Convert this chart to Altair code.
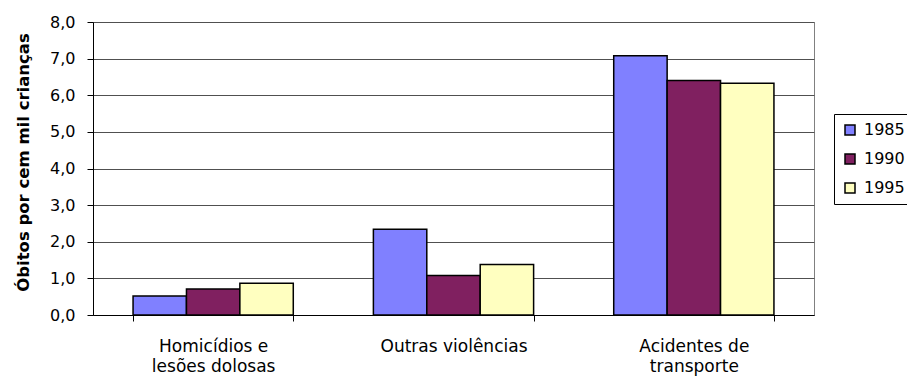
import altair as alt
import pandas as pd

categories = ["Homicídios e lesões dolosas", "Outras violências", "Acidentes de transporte"]
label_lines = [["Homicídios e", "lesões dolosas"], ["Outras violências"], ["Acidentes de", "transporte"]]
years = ["1985", "1990", "1995"]
v1985 = [0.52, 2.34, 7.08]
v1990 = [0.71, 1.08, 6.40]
v1995 = [0.87, 1.38, 6.33]
colors = ["#8080FF", "#802060", "#FFFFC0"]
y_ticks = [0, 1, 2, 3, 4, 5, 6, 7, 8]

rows = []
for year, vals in zip(years, [v1985, v1990, v1995]):
    for cat, v in zip(categories, vals):
        rows.append({"categoria": cat, "ano": year, "valor": v})
df = pd.DataFrame(rows)

def arr(lines):
    return "[" + ",".join("'" + l + "'" for l in lines) + "]"

parts = []
for cat, lines in zip(categories, label_lines):
    parts.append(f"datum.value == '{cat}' ? {arr(lines)} : ")
x_label_expr = "".join(parts) + "datum.label"

FONT = "DejaVu Sans"

chart = alt.Chart(df).mark_bar(stroke="black", strokeWidth=1.5).encode(
    x=alt.X(
        "categoria:N",
        sort=categories,
        scale=alt.Scale(paddingInner=1 / 3, paddingOuter=1 / 6),
        axis=alt.Axis(
            title=None,
            labelAngle=0,
            tickBand="extent",
            labelExpr=x_label_expr,
            labelFont=FONT,
            labelFontSize=17,
            labelColor="black",
            labelPadding=17,
            labelLineHeight=20,
            tickSize=6,
            tickColor="black",
            domainColor="black",
            grid=False,
        ),
    ),
    xOffset=alt.XOffset("ano:N", sort=years, scale=alt.Scale(paddingInner=0, paddingOuter=0)),
    y=alt.Y(
        "valor:Q",
        scale=alt.Scale(domain=[0, 8], nice=False),
        axis=alt.Axis(
            values=y_ticks,
            labelExpr="replace(format(datum.value, '.1f'), '.', ',')",
            title="Óbitos por cem mil crianças",
            titleFont=FONT,
            titleFontSize=16.5,
            titleFontWeight="bold",
            titleColor="black",
            titleX=-70,
            titleY=140,
            titleBaseline="middle",
            labelFont=FONT,
            labelFontSize=16,
            labelColor="black",
            labelPadding=12,
            tickSize=6,
            tickColor="black",
            domainColor="black",
            grid=True,
            gridColor="#505050",
            gridOpacity=1,
        ),
    ),
    color=alt.Color(
        "ano:N",
        sort=years,
        scale=alt.Scale(domain=years, range=colors),
        legend=alt.Legend(
            title=None,
            orient="none",
            legendX=741,
            legendY=92,
            symbolType="square",
            symbolSize=100,
            symbolStrokeColor="black",
            symbolStrokeWidth=1.5,
            symbolOpacity=1,
            labelFont=FONT,
            labelFontSize=16,
            labelColor="black",
            labelOffset=6,
            rowPadding=13,
            padding=8,
            strokeColor="black",
            fillColor="white",
        ),
    ),
).properties(
    width=721,
    height=293,
    autosize="none",
    padding={"left": 93, "top": 22, "right": 93, "bottom": 61},
    background="white",
).configure_view(stroke="#808080", fill="white")

chart.save("out.html", embed_options={"renderer": "svg", "actions": False})
